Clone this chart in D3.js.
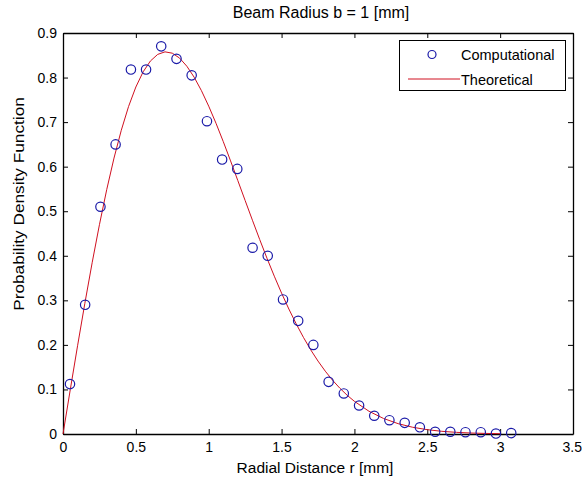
<!DOCTYPE html>
<html><head><meta charset="utf-8">
<script src="https://cdnjs.cloudflare.com/ajax/libs/d3/7.8.5/d3.min.js"></script>
<style>body{margin:0;background:#fff}svg{display:block}text{font-family:"Liberation Sans",Arial,sans-serif;fill:#000}</style>
</head><body><svg id="c" width="582" height="479"></svg>
<script>
const compR = [0.048,0.152,0.257,0.361,0.466,0.570,0.674,0.779,0.883,0.988,1.092,1.196,1.301,1.405,1.510,1.614,1.718,1.823,1.927,2.032,2.136,2.240,2.345,2.449,2.554,2.658,2.762,2.867,2.971,3.076];
const compPdf = [0.112,0.290,0.510,0.650,0.818,0.818,0.870,0.842,0.805,0.702,0.616,0.595,0.418,0.400,0.302,0.254,0.200,0.117,0.091,0.064,0.041,0.031,0.025,0.015,0.005,0.005,0.004,0.004,0.001,0.002];
const theoR = [0,0.05,0.1,0.15,0.2,0.25,0.3,0.35,0.4,0.45,0.5,0.55,0.6,0.65,0.7,0.75,0.8,0.85,0.9,0.95,1.0,1.05,1.1,1.15,1.2,1.25,1.3,1.35,1.4,1.45,1.5,1.55,1.6,1.65,1.7,1.75,1.8,1.85,1.9,1.95,2.0,2.1,2.2,2.3,2.4,2.5,2.6,2.7,2.8,2.9,3.0];
const theoPdf = [0,0.0998,0.198,0.2933,0.3843,0.4697,0.5484,0.6193,0.6817,0.7351,0.7788,0.8129,0.8372,0.8520,0.8577,0.8547,0.8437,0.8254,0.8008,0.7706,0.7358,0.6974,0.6561,0.6129,0.5686,0.5240,0.4798,0.4364,0.3944,0.3542,0.3162,0.2805,0.2474,0.2169,0.1889,0.1637,0.1410,0.1207,0.1028,0.0870,0.0733,0.0510,0.0348,0.0232,0.0151,0.0097,0.0060,0.0037,0.0022,0.0013,0.0007];
const xTicks = [0,0.5,1,1.5,2,2.5,3,3.5];
const yTicks = [0,0.1,0.2,0.3,0.4,0.5,0.6,0.7,0.8,0.9];
const titleText = "Beam Radius b = 1 [mm]";
const xLabel = "Radial Distance r [mm]";
const yLabel = "Probability Density Function";
const legendLabels = ["Computational","Theoretical"];

const svg = d3.select("#c");
const L=63,R=573,T=33,B=434;
const x = d3.scaleLinear().domain([0,3.5]).range([L,R]);
const y = d3.scaleLinear().domain([0,0.9]).range([B,T]);
const fmt = d => d===0?"0":String(d);

const gx = svg.append("g").attr("transform",`translate(0,${B})`)
  .call(d3.axisBottom(x).tickValues(xTicks).tickFormat(fmt).tickSizeInner(-5).tickSizeOuter(0).tickPadding(8));
const gxt = svg.append("g").attr("transform",`translate(0,${T})`)
  .call(d3.axisTop(x).tickValues(xTicks).tickFormat("").tickSizeInner(-5).tickSizeOuter(0));
const gy = svg.append("g").attr("transform",`translate(${L},0)`)
  .call(d3.axisLeft(y).tickValues(yTicks).tickFormat(fmt).tickSizeInner(-5).tickSizeOuter(0).tickPadding(6));
const gyr = svg.append("g").attr("transform",`translate(${R},0)`)
  .call(d3.axisRight(y).tickValues(yTicks).tickFormat("").tickSizeInner(-5).tickSizeOuter(0));
[gx,gxt,gy,gyr].forEach(g=>{
  g.selectAll(".domain").attr("stroke","#000").attr("stroke-width",1.3);
  g.selectAll(".tick line").attr("stroke","#000");
  g.selectAll(".tick text").style("font-size","14px").attr("fill","#222").style("font-family",'"Liberation Sans",Arial,sans-serif');
});
gx.selectAll(".tick text").attr("dy","0.71em");
gx.selectAll(".tick text").filter(d=>d===3.5).attr("text-anchor","end").attr("dx","8.5");

svg.append("path").datum(theoR.map((r,i)=>[r,theoPdf[i]]))
  .attr("fill","none").attr("stroke","#d01020").attr("stroke-width",1)
  .attr("d",d3.line().x(d=>x(d[0])).y(d=>y(d[1])));

svg.append("g").selectAll("circle").data(compR.map((r,i)=>[r,compPdf[i]])).join("circle")
  .attr("cx",d=>x(d[0])).attr("cy",d=>y(d[1])).attr("r",4.7)
  .attr("fill","none").attr("stroke","#1a1aa8").attr("stroke-width",1.2);

svg.append("text").attr("x",(L+R)/2+3).attr("y",18).attr("text-anchor","middle").style("font-size","16px").text(titleText);
svg.append("text").attr("x",(L+R)/2-3).attr("y",473).attr("text-anchor","middle").style("font-size","15.5px").text(xLabel);
svg.append("text").attr("transform",`translate(24,204) scale(1,1.15) rotate(-90)`).attr("text-anchor","middle").style("font-size","15px").text(yLabel);

const lg = svg.append("g");
lg.append("rect").attr("x",399.5).attr("y",40.5).attr("width",166).attr("height",50).attr("fill","#fff").attr("stroke","#000").attr("stroke-width",1);
lg.append("circle").attr("cx",432).attr("cy",54.5).attr("r",4).attr("fill","none").attr("stroke","#1a1aa8").attr("stroke-width",1.2);
lg.append("line").attr("x1",408).attr("x2",460).attr("y1",79).attr("y2",79).attr("stroke","#d01020").attr("stroke-width",1);
lg.append("text").attr("x",461).attr("y",60).style("font-size","14.5px").text(legendLabels[0]);
lg.append("text").attr("x",461).attr("y",84.5).style("font-size","14.5px").text(legendLabels[1]);
</script></body></html>
